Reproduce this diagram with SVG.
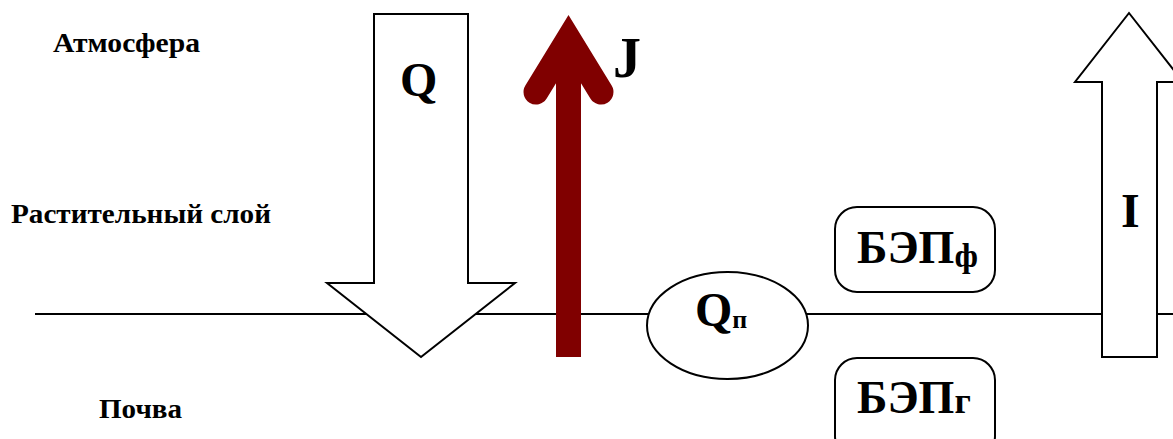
<svg xmlns="http://www.w3.org/2000/svg" width="1173" height="439" viewBox="0 0 1173 439">
<style>
.t{font-family:"Liberation Serif","Times New Roman",serif;font-weight:bold;fill:#000}
.lab{font-size:27px}
.big{font-size:48px}
.box{font-size:46px}
.out{fill:#fff;stroke:#000;stroke-width:2}
</style>
<rect width="1173" height="439" fill="#fff"/>
<g id="layers">
<text class="t lab" x="53" y="52" textLength="147" lengthAdjust="spacingAndGlyphs">Атмосфера</text>
<text class="t lab" x="11" y="223" textLength="260" lengthAdjust="spacingAndGlyphs">Растительный слой</text>
<text class="t lab" x="99" y="418" textLength="83" lengthAdjust="spacingAndGlyphs">Почва</text>
</g>
<g id="connectors">
<line x1="35" y1="314" x2="1173" y2="314" stroke="#000" stroke-width="2"/>
</g>
<g id="Q">
<polygon class="out" points="374,14 468,14 468,283 515,283 421,357 327,283 374,283"/>
<text class="t big" x="400" y="96">Q</text>
</g>
<g id="J">
<rect x="556" y="60" width="25" height="297" fill="#800000"/>
<polyline points="536,92 568.5,39 601,92" fill="none" stroke="#800000" stroke-width="25" stroke-linecap="round" stroke-linejoin="miter" stroke-miterlimit="10"/>
<text class="t" x="613" y="77" font-size="56">J</text>
</g>
<g id="I">
<polygon class="out" points="1102,357 1102,82 1075,82 1129,13 1183,82 1157,82 1157,357"/>
<text class="t big" x="1121" y="227">I</text>
</g>
<g id="Qp">
<ellipse class="out" cx="727.5" cy="325.5" rx="80.5" ry="53.5"/>
<text class="t" x="695" y="326"><tspan font-size="48">Q</tspan><tspan font-size="26" dy="2">п</tspan></text>
</g>
<g id="BEPf">
<rect class="out" x="835" y="207" width="160" height="85" rx="22"/>
<text class="t" x="857" y="263"><tspan class="box">БЭП</tspan><tspan font-size="34" dy="4">ф</tspan></text>
</g>
<g id="BEPg">
<rect class="out" x="835" y="358" width="160" height="100" rx="22"/>
<text class="t" x="857" y="413"><tspan class="box">БЭП</tspan><tspan font-size="36">г</tspan></text>
</g>
</svg>
